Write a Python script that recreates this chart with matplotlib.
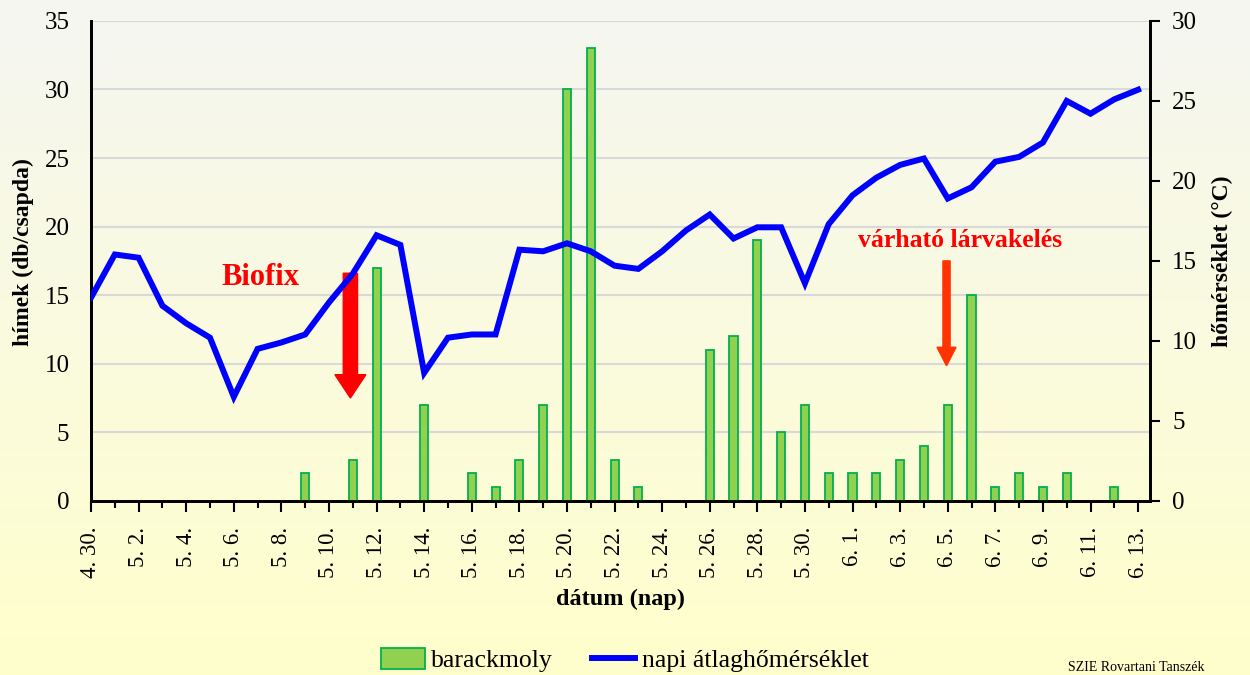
import numpy as np
import matplotlib.pyplot as plt
from matplotlib.patches import Patch
from matplotlib.lines import Line2D

plt.rcParams["font.family"] = ["Liberation Serif", "DejaVu Serif"]

# day labels, 4.30 .. 6.13
dates = (["4. 30."]
         + ["5. %d." % d for d in range(1, 32)]
         + ["6. %d." % d for d in range(1, 14)])

# male moths per trap (barackmoly)
moths = [0, 0, 0, 0, 0, 0, 0, 0, 0, 2,
         0, 3, 17, 0, 7, 0, 2, 1, 3, 7,
         30, 33, 3, 1, 0, 0, 11, 12, 19, 5,
         7, 2, 2, 2, 3, 4, 7, 15, 1, 2,
         1, 2, 0, 1, 0]

# daily mean temperature (°C)
temps = [12.7, 15.4, 15.2, 12.2, 11.1, 10.2, 6.5, 9.5, 9.9, 10.4,
         12.4, 14.2, 16.6, 16.0, 8.0, 10.2, 10.4, 10.4, 15.7, 15.6,
         16.1, 15.6, 14.7, 14.5, 15.6, 16.9, 17.9, 16.4, 17.1, 17.1,
         13.6, 17.3, 19.1, 20.2, 21.0, 21.4, 18.9, 19.6, 21.2, 21.5,
         22.4, 25.0, 24.2, 25.1, 25.7]

x = np.arange(len(dates))

fig = plt.figure(figsize=(12.5, 6.75), dpi=100)

# background gradient
bg = fig.add_axes([0, 0, 1, 1], zorder=-10)
top = np.array([245, 246, 241]) / 255
bot = np.array([255, 255, 204]) / 255
t = np.linspace(0, 1, 256)[:, None]
grad = top[None, :] * (1 - t) + bot[None, :] * t
bg.imshow(grad[:, None, :], aspect="auto", extent=[0, 1, 0, 1])
bg.axis("off")

ax = fig.add_axes([0.0728, 0.258, 0.8472, 0.711])
ax.patch.set_alpha(0)
ax2 = ax.twinx()
ax2.patch.set_alpha(0)

mask = np.array(moths) > 0
ax.bar(x[mask], np.array(moths)[mask], width=0.34, color="#92D050",
       edgecolor="#00B050", linewidth=1.3, zorder=3)
ax2.plot(x, temps, color="#0000FF", linewidth=4.3, solid_joinstyle="miter", zorder=4)

ax.set_xlim(0, 44.5)
ax.set_ylim(0, 35)
ax2.set_ylim(0, 30)
ax.set_yticks(range(0, 36, 5))
ax2.set_yticks(range(0, 31, 5))
ax.yaxis.grid(True, color="#D9D9D9", linewidth=1.5, zorder=0)
ax.set_axisbelow(True)

ax.set_xticks(x[::2])
ax.set_xticklabels(dates[::2], rotation=90)
ax.set_xticks(x[1::2], minor=True)

for a in (ax, ax2):
    a.spines["top"].set_visible(False)
    for s in ("left", "right", "bottom"):
        a.spines[s].set_linewidth(2)
        a.spines[s].set_color("black")

ax.tick_params(axis="x", which="major", length=8, width=1.5, labelsize=16.5, pad=10.5)
ax.tick_params(axis="x", which="minor", length=5, width=1.5)
ax.tick_params(axis="y", length=0, labelsize=18, pad=15.5)
ax2.tick_params(axis="y", length=7, width=1.5, labelsize=18, pad=9)

ax.set_ylabel("hímek (db/csapda)", fontsize=17, fontweight="bold", ha="center", va="center")
ax.yaxis.set_label_coords(-0.064, 0.519)
ax2.set_ylabel("hőmérséklet (°C)", fontsize=17, fontweight="bold", ha="center", va="center")
ax2.yaxis.set_label_coords(1.068, 0.5)
ax.set_xlabel("dátum (nap)", fontsize=17.5, fontweight="bold", va="center")
ax.xaxis.set_label_coords(0.5, -0.206)

# Biofix arrow and label
ax.arrow(10.9, 16.6, 0, -9.1, width=0.6, head_width=1.3, head_length=1.7,
         length_includes_head=True, color="#FF0000", zorder=5)
ax.text(7.1, 16.3, "Biofix", color="#FF0000", fontsize=22, fontweight="bold",
        ha="center", va="center", zorder=5)

# expected larval hatching
ax.arrow(35.95, 17.5, 0, -7.65, width=0.3, head_width=0.8, head_length=1.35,
         length_includes_head=True, color="#FF3300", zorder=5)
ax.text(36.5, 19.0, "várható lárvakelés", color="#FF0000", fontsize=18.5,
        fontweight="bold", ha="center", va="center", zorder=5)

handles = [Patch(facecolor="#92D050", edgecolor="#00B050", linewidth=1.3),
           Line2D([0], [0], color="#0000FF", linewidth=4.3)]
fig.legend(handles, ["barackmoly", "napi átlaghőmérséklet"], loc="center",
           bbox_to_anchor=(0.5, 1 - 660 / 675), ncol=2, frameon=False,
           fontsize=18.5, handlelength=1.7, handleheight=0.9, columnspacing=1.5,
           handletextpad=0.25)

fig.text(1068 / 1250, 1 - 661 / 675, "SZIE Rovartani Tanszék", fontsize=10,
         ha="left", va="top")

fig.savefig("out.png", dpi=100)
